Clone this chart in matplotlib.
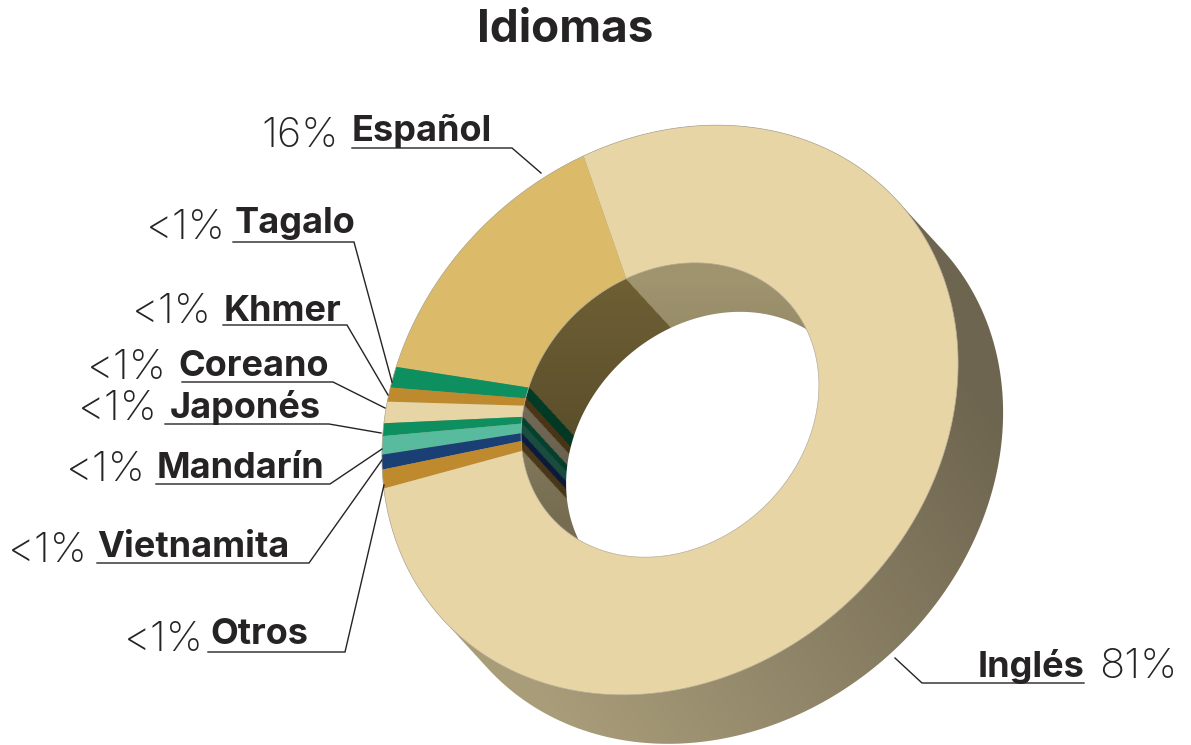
import numpy as np
from matplotlib import pyplot
from matplotlib.colors import LinearSegmentedColormap
from matplotlib.patches import Polygon, PathPatch
from matplotlib.path import Path

# slice shares as measured on the picture (the printed labels are rounded differently)
languages = ['Español', 'Tagalo', 'Khmer', 'Coreano', 'Japonés', 'Mandarín', 'Vietnamita', 'Otros', 'Inglés']
shares = [17.2, 1.2, 0.8, 1.2, 0.7, 1.0, 0.8, 1.0, 76.1]
percent_labels = ['16%', '<1%', '<1%', '<1%', '<1%', '<1%', '<1%', '<1%', '81%']
face_colors = ['#DBBB69', '#0E8F60', '#BE8A2D', '#E8D5A6', '#0E8F60', '#58BB9D', '#1A3F75', '#BE8A2D', '#E8D5A6']
wall_colors = ['#6E5F34', '#03442C', '#57401A', '#857A64', '#064F37', '#215F4E', '#10214A', '#5E4720', '#A0946F']

# label layout: name left, name baseline, percent right, percent baseline, leader polyline
label_layout = {
    'Español': (352, 141, 339, 147, [(352, 148), (512, 148), (541, 173)]),
    'Tagalo': (235, 233, 226, 239, [(233, 242), (354, 242), (392, 382)]),
    'Khmer': (224, 321, 212, 323, [(223, 325), (347, 325), (388, 395)]),
    'Coreano': (178, 376, 167, 379, [(182, 382), (333, 382), (385, 408)]),
    'Japonés': (170, 418, 158, 420, [(165, 424), (329, 424), (381, 433)]),
    'Mandarín': (157, 478, 146, 481, [(156, 484), (330, 484), (382, 449)]),
    'Vietnamita': (97, 557, 88, 562, [(97, 563), (309, 563), (382, 460)]),
    'Otros': (210, 644, 204, 651, [(208, 652), (345, 652), (384, 485)]),
}

start_angle = -109.2
apex = (672, 410)
depth = (45, 49)
outer = (670, 410, 309, 262, 43)
hole = (670, 410, 160, 135, 43)
text_color = '#262324'


def ellipse_xy(cx, cy, a, b, tilt, shift=None):
    phi = np.linspace(0, 2 * np.pi, 720, endpoint=False)
    c, s = np.cos(np.radians(tilt)), np.sin(np.radians(tilt))
    lx, ly = a * np.cos(phi), b * np.sin(phi)
    x = lx * c + ly * s
    y = -lx * s + ly * c
    if shift is not None:
        # push the far side of the outline, which gives the swept silhouette
        nx, ny = np.cos(phi) / a, np.sin(phi) / b
        push = (nx * c + ny * s) * shift[0] + (-nx * s + ny * c) * shift[1] > 0
        x = x + push * shift[0]
        y = y + push * shift[1]
    return np.column_stack([cx + x, cy + y])


pyplot.rcParams['font.family'] = ['Inter', 'DejaVu Sans']
fig = pyplot.figure(figsize=(11.91, 7.45), dpi=100)
axes = fig.add_axes([0, 0, 1, 1])

# outer side of the ring
silhouette = Polygon(ellipse_xy(*outer, shift=depth), closed=True, fc='none', ec='none')
axes.add_patch(silhouette)
xx, yy = np.meshgrid(np.arange(1191), np.arange(745))
ramp = ((xx - 1000) * -440 + (yy - 420) * 300) / (440.0 ** 2 + 300.0 ** 2)
side_cmap = LinearSegmentedColormap.from_list('side', ['#6E6550', '#A89C79'])
side = axes.imshow(ramp, extent=(0, 1191, 745, 0), cmap=side_cmap, vmin=0, vmax=1, aspect='auto', zorder=1)
side.set_clip_path(silhouette)

# inner wall of the hole: same slices stepped back along the depth
for t in np.linspace(0, 1, 40):
    layer = Polygon(ellipse_xy(hole[0] + t * depth[0], hole[1] + t * depth[1], *hole[2:]),
                    closed=True, fc='none', ec='none')
    axes.add_patch(layer)
    wedges, _ = axes.pie(shares, colors=wall_colors, startangle=start_angle, counterclock=False,
                         center=(apex[0] + t * depth[0], apex[1] + t * depth[1]), radius=500,
                         wedgeprops=dict(linewidth=0))
    for w in wedges:
        w.set_zorder(2)
        w.set_clip_on(True)
        w.set_clip_path(layer)

# wall gets darker towards the bottom
front_hole_xy = ellipse_xy(*hole)
front_hole = Polygon(front_hole_xy, closed=True, fc='none', ec='none')
axes.add_patch(front_hole)
shade = np.zeros((745, 1191, 4))
shade[..., 3] = np.clip((yy - 280) / 240.0, 0, 1) * 0.27
shade_im = axes.imshow(shade, extent=(0, 1191, 745, 0), aspect='auto', zorder=3)
shade_im.set_clip_path(front_hole)

back_hole = Polygon(ellipse_xy(hole[0] + depth[0], hole[1] + depth[1], *hole[2:]),
                    closed=True, fc='white', ec='none', zorder=4)
axes.add_patch(back_hole)

# front face
outer_xy = ellipse_xy(*outer)
ring_path = Path.make_compound_path(Path(outer_xy, closed=False), Path(front_hole_xy[::-1], closed=False))
ring = PathPatch(ring_path, fc='none', ec='none')
axes.add_patch(ring)
wedges, _ = axes.pie(shares, colors=face_colors, startangle=start_angle, counterclock=False,
                     center=apex, radius=600, wedgeprops=dict(linewidth=0))
for w in wedges:
    w.set_zorder(5)
    w.set_clip_on(True)
    w.set_clip_path(ring)

# thin grey rim the picture has on the face
for rim in (outer_xy, front_hole_xy):
    axes.add_patch(Polygon(rim, closed=True, fc='none', ec='#B5AE98', linewidth=0.5, zorder=5.5))

# labels
for name, pct in zip(languages, percent_labels):
    if name == 'Inglés':
        continue
    nx, ny, px, py, leader = label_layout[name]
    axes.text(nx, ny, name, fontsize=26, fontweight='bold', color=text_color, ha='left', va='baseline', zorder=7)
    axes.text(px, py, pct, fontsize=30, fontweight='light', color=text_color, ha='right', va='baseline', zorder=7)
    axes.plot(*zip(*leader), color=text_color, linewidth=1.0, zorder=6, solid_joinstyle='miter')

axes.text(1084, 677, 'Inglés', fontsize=26, fontweight='bold', color=text_color, ha='right', va='baseline', zorder=7)
axes.text(1177, 678, '81%', fontsize=30, fontweight='light', color=text_color, ha='right', va='baseline', zorder=7)
axes.plot([1084, 922, 895], [683, 683, 658], color=text_color, linewidth=1.0, zorder=6)

axes.text(565, 42, 'Idiomas', fontsize=33, fontweight='bold', color=text_color, ha='center', va='baseline', zorder=7)

axes.set_xlim(0, 1191)
axes.set_ylim(745, 0)
axes.set_axis_off()
fig.savefig('out.png', dpi=100)
